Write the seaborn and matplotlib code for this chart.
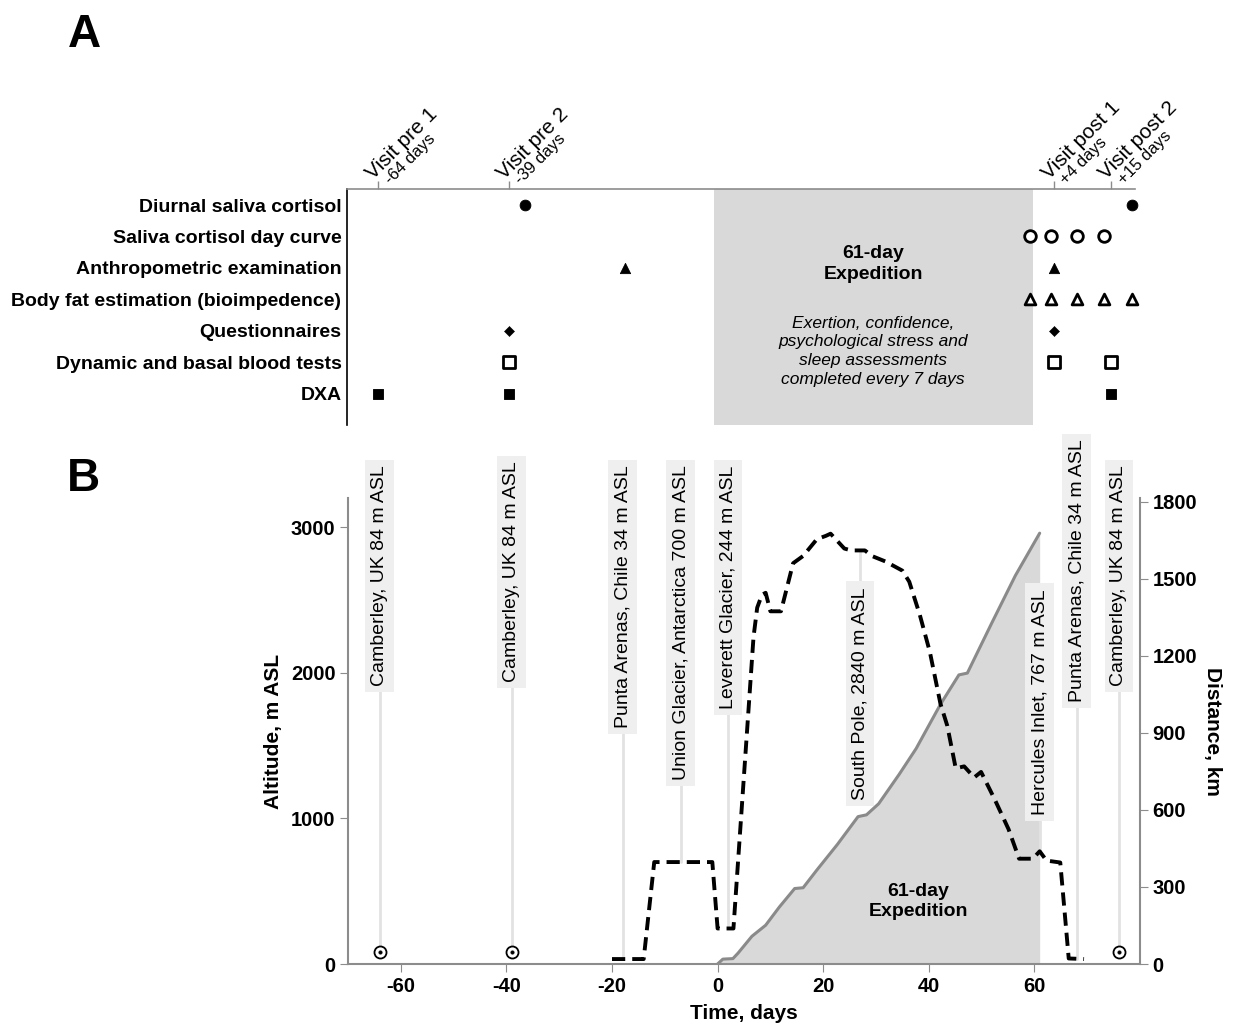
import matplotlib
matplotlib.use("Agg")
import numpy as np
import pandas as pd
import matplotlib.pyplot as plt
import seaborn as sns

# ---- data: panel A (study timeline) ----
rows = ["Diurnal saliva cortisol", "Saliva cortisol day curve",
        "Anthropometric examination", "Body fat estimation (bioimpedence)",
        "Questionnaires", "Dynamic and basal blood tests", "DXA"]
row_days = [[-36, 80], [60.5, 64.5, 69.5, 74.5], [-17, 65], [60.5, 64.5, 69.5, 74.5, 80],
            [-39, 65], [-39, 65, 76], [-64, -39, 76]]
visit_names = ["Visit pre 1", "Visit pre 2", "Visit post 1", "Visit post 2"]
visit_sub = ["-64 days", "-39 days", "+4 days", "+15 days"]
visit_days = [-64, -39, 65, 76]
expedition = [0, 61]

# ---- data: panel B (altitude / distance) ----
alt_days = [-20, -14, -12, -1, 0, 3, 6.8, 7.5, 8.4, 9.1, 10, 12, 14.3, 16.2,
            18.8, 20.5, 21.4, 24, 25.3, 27.9, 29.2, 31.8, 35, 36.3, 38.3, 40.2,
            42.2, 43.5, 45.1, 46.7, 48.6, 49.9, 52.5, 55.1, 57.1, 59.7, 61,
            62.3, 64.9, 66.5, 69.4]
alt_m = [34, 34, 700, 700, 244, 244, 2244, 2447, 2536, 2549, 2422, 2422, 2752,
         2802, 2917, 2940, 2955, 2853, 2840, 2840, 2802, 2764, 2701, 2625, 2397,
         2143, 1788, 1636, 1344, 1357, 1281, 1319, 1129, 926, 723, 723, 774,
         710, 697, 38, 34]
dist_days = [0, 1, 2.9, 3.9, 6.5, 9.1, 11.7, 14.6, 16.2, 18.8, 22.7, 26.6,
             28.2, 30.5, 34.4, 37.6, 42.2, 45.7, 47.3, 51.9, 56.4, 61]
dist_km = [0, 19, 21, 43, 108, 151, 222, 294, 297, 366, 466, 574, 581, 624,
           739, 839, 1011, 1126, 1133, 1327, 1513, 1678]
loc_names = ["Camberley, UK 84 m ASL", "Camberley, UK 84 m ASL",
             "Punta Arenas, Chile 34 m ASL", "Union Glacier, Antarctica 700 m ASL",
             "Leverett Glacier, 244 m ASL", "South Pole, 2840 m ASL",
             "Hercules Inlet, 767 m ASL", "Punta Arenas, Chile 34 m ASL",
             "Camberley, UK 84 m ASL"]
loc_days = [-64, -39, -18, -7, 2, 27, 61, 68, 76]
loc_alt = [84, 84, 34, 700, 244, 2840, 767, 34, 84]
home_days = [-64, -39, 76]
home_alt = 84

# layout: where the top of each rotated place label sits (m on the left axis)
label_top = [3424, 3449, 3424, 3424, 3424, 2587, 2574, 3601, 3424]

GRAY = "#d9d9d9"
SPINE = "#8c8c8c"

sns.set_style("white")
plt.rcParams['font.family'] = ['Liberation Sans', 'DejaVu Sans']
plt.rcParams.update({"text.color": "black", "axes.labelcolor": "black",
                     "xtick.color": "black", "ytick.color": "black",
                     "axes.unicode_minus": False})

W, H = 1237, 1030
fig = plt.figure(figsize=(W / 100, H / 100), dpi=100)
axA = fig.add_axes([347 / W, 1 - 425 / H, (1135 - 347) / W, (425 - 189) / H])
axB = fig.add_axes([348 / W, 1 - 964 / H, (1140 - 348) / W, (964 - 498) / H])

# ================= panel A =================
axA.axvspan(expedition[0], expedition[1], color=GRAY, lw=0, zorder=0)
mstyles = [dict(marker="o", s=60, color="black", edgecolor="black"),
           dict(marker="o", s=70, color="white", edgecolor="black", linewidth=2),
           dict(marker="^", s=55, color="black", edgecolor="black"),
           dict(marker="^", s=60, color="white", edgecolor="black", linewidth=2),
           dict(marker="D", s=26, color="black", edgecolor="black"),
           dict(marker="s", s=75, color="white", edgecolor="black", linewidth=2),
           dict(marker="s", s=62, color="black", edgecolor="black")]
for i, (days, st) in enumerate(zip(row_days, mstyles)):
    df = pd.DataFrame({"day": days, "row": [i + 1] * len(days)})
    sns.scatterplot(data=df, x="day", y="row", ax=axA, clip_on=False, zorder=3, **st)

axA.set_xlim(-70, 80.5)
axA.set_ylim(8.0, 0.49)
axA.set_yticks(range(1, 8))
axA.set_yticklabels(rows, fontsize=14, fontweight="bold")
axA.tick_params(axis="y", length=0, pad=4)
axA.xaxis.tick_top()
axA.set_xticks(visit_days)
axA.set_xticklabels([])
axA.tick_params(axis="x", top=True, direction="out", length=6, color=SPINE, width=1)
axA.set_xlabel("")
axA.set_ylabel("")
for sp in ["right", "bottom"]:
    axA.spines[sp].set_visible(False)
for sp in ["left", "top"]:
    axA.spines[sp].set_color(SPINE)
    axA.spines[sp].set_linewidth(1.2)
axA.spines["left"].set_color("black")

tr = axA.get_xaxis_transform()
for d, name, sub in zip(visit_days, visit_names, visit_sub):
    axA.annotate(name, xy=(d, 1), xycoords=tr, xytext=(-5, 9), textcoords="offset pixels",
                 rotation=45, rotation_mode="anchor", ha="left", va="baseline", fontsize=15)
    axA.annotate(sub, xy=(d, 1), xycoords=tr, xytext=(12, 4), textcoords="offset pixels",
                 rotation=45, rotation_mode="anchor", ha="left", va="baseline", fontsize=12)

axA.text(30.5, 2.88, "61-day\nExpedition", ha="center", va="center", fontsize=14,
         fontweight="bold", linespacing=1.25)
axA.text(30.5, 5.65, "Exertion, confidence,\npsychological stress and\nsleep assessments\n"
         "completed every 7 days", ha="center", va="center", fontsize=12.5,
         style="italic", linespacing=1.3)

fig.text(68 / W, 1 - 47 / H, "A", fontsize=33, fontweight="bold", va="baseline")
fig.text(67 / W, 1 - 491 / H, "B", fontsize=33, fontweight="bold", va="baseline")

# ================= panel B =================
axB2 = axB.twinx()
axB.set_zorder(axB2.get_zorder() + 1)
axB.patch.set_visible(False)

axB2.fill_between(dist_days, dist_km, color=GRAY, lw=0, zorder=1)
sns.lineplot(x=dist_days, y=dist_km, ax=axB2, color="#8a8a8a", lw=2.2, zorder=2)
sns.lineplot(x=alt_days, y=alt_m, ax=axB, color="black", lw=2.8,
             linestyle=(0, (3.4, 1.8)), zorder=4)

for d, a, name, top in zip(loc_days, loc_alt, loc_names, label_top):
    axB.plot([d, d], [min(a, top), max(a, top)], color="#e2e2e2", lw=2,
             zorder=1, clip_on=False)
    axB.text(d, top, name, rotation=90, ha="center", va="top", fontsize=14,
             zorder=2, clip_on=False,
             bbox=dict(boxstyle="square,pad=0.3", fc="#efefef", ec="none"))

home = pd.DataFrame({"day": home_days, "alt": [home_alt] * len(home_days)})
sns.scatterplot(data=home, x="day", y="alt", ax=axB, marker="o", s=75,
                color="white", edgecolor="black", linewidth=1.3, zorder=5)
sns.scatterplot(data=home, x="day", y="alt", ax=axB, marker="o", s=7,
                color="black", edgecolor="black", zorder=6)

axB.text(38, 430, "61-day\nExpedition", ha="center", va="center", fontsize=14,
         fontweight="bold", linespacing=1.25, zorder=3)

axB.set_xlim(-70, 80)
axB.set_ylim(0, 3200)
axB2.set_ylim(0, 1815)
axB.set_xticks([-60, -40, -20, 0, 20, 40, 60])
axB.set_yticks([0, 1000, 2000, 3000])
axB2.set_yticks([0, 300, 600, 900, 1200, 1500, 1800])

axB.tick_params(axis="both", bottom=True, left=True, direction="out", length=6,
                color=SPINE, labelsize=14.5, pad=3)
axB2.tick_params(axis="y", right=True, direction="out", length=6, color=SPINE,
                 labelsize=14.5, pad=3)
for lbl in axB.get_xticklabels() + axB.get_yticklabels() + axB2.get_yticklabels():
    lbl.set_fontweight("bold")

axB.set_xlabel("Time, days", fontsize=15, fontweight="bold", labelpad=6)
axB.set_ylabel("Altitude, m ASL", fontsize=15, fontweight="bold", labelpad=6)
axB2.set_ylabel("Distance, km", fontsize=15, fontweight="bold", rotation=270,
                va="bottom", labelpad=4)

for sp in ["top", "right"]:
    axB.spines[sp].set_visible(False)
for sp in ["top", "left", "bottom"]:
    axB2.spines[sp].set_visible(False)
for s in [axB.spines["left"], axB.spines["bottom"], axB2.spines["right"]]:
    s.set_color(SPINE)
    s.set_linewidth(1.5)

fig.savefig("out.png", dpi=100)
